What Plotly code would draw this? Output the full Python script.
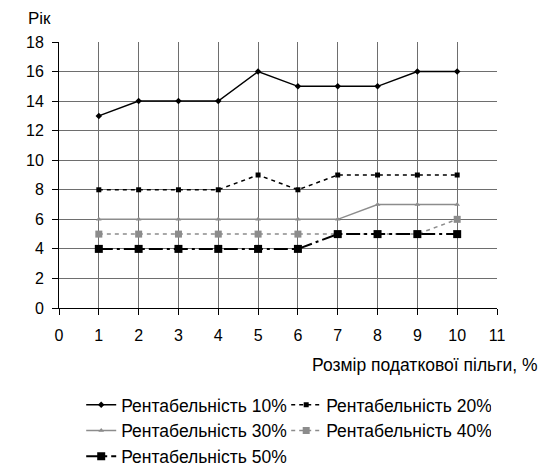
import plotly.graph_objects as go

x_vals = [1, 2, 3, 4, 5, 6, 7, 8, 9, 10]
r10 = [13, 14, 14, 14, 16, 15, 15, 15, 16, 16]
r20 = [8, 8, 8, 8, 9, 8, 9, 9, 9, 9]
r30 = [6, 6, 6, 6, 6, 6, 6, 7, 7, 7]
r40 = [5, 5, 5, 5, 5, 5, 5, 5, 5, 6]
r50 = [4, 4, 4, 4, 4, 4, 5, 5, 5, 5]
names = ["Рентабельність 10%", "Рентабельність 20%", "Рентабельність 30%",
         "Рентабельність 40%", "Рентабельність 50%"]

FONT = "Liberation Sans, Arial, sans-serif"

fig = go.Figure()
fig.add_trace(go.Scatter(x=x_vals, y=r10, name=names[0], mode="lines+markers",
                         line=dict(color="black", width=1.5),
                         marker=dict(symbol="diamond", size=5, color="black")))
fig.add_trace(go.Scatter(x=x_vals, y=r20, name=names[1], mode="lines+markers",
                         line=dict(color="black", width=1.5, dash="4px,4px"),
                         marker=dict(symbol="square", size=5, color="black")))
fig.add_trace(go.Scatter(x=x_vals, y=r30, name=names[2], mode="lines+markers",
                         line=dict(color="#8c8c8c", width=1.5),
                         marker=dict(symbol="triangle-up", size=5, color="#8c8c8c")))
fig.add_trace(go.Scatter(x=x_vals, y=r40, name=names[3], mode="lines+markers",
                         line=dict(color="#8c8c8c", width=1.5, dash="4px,4px"),
                         marker=dict(symbol="square", size=7, color="#8c8c8c")))
fig.add_trace(go.Scatter(x=x_vals, y=r50, name=names[4], mode="lines+markers",
                         line=dict(color="black", width=2, dash="14px,4px,3px,4px"),
                         marker=dict(symbol="square", size=8, color="black")))

fig.update_layout(
    width=545, height=469,
    margin=dict(l=59, r=48, t=42, b=161),
    paper_bgcolor="white", plot_bgcolor="white",
    font=dict(family=FONT, size=16, color="black"),
    showlegend=True,
    legend=dict(orientation="h", xref="container", yref="container",
                x=0.149, y=0.175, xanchor="left", yanchor="top",
                entrywidth=160, entrywidthmode="pixels", itemwidth=30,
                font=dict(family=FONT, size=17.5, color="black"),
                tracegroupgap=0, bgcolor="rgba(0,0,0,0)"),
    xaxis=dict(range=[0, 11], tickmode="linear", tick0=0, dtick=1,
               showgrid=True, gridcolor="#6e6e6e", gridwidth=1,
               showline=True, linecolor="black", linewidth=1,
               ticks="outside", ticklen=6, tickcolor="black",
               ticklabelstandoff=7,
               mirror=False, zeroline=False,
               tickfont=dict(family=FONT, size=16, color="black")),
    yaxis=dict(range=[0, 18], tickmode="linear", tick0=0, dtick=2,
               showgrid=True, gridcolor="#6e6e6e", gridwidth=1,
               showline=True, linecolor="black", linewidth=1,
               ticks="outside", ticklen=6, tickcolor="black",
               ticklabelstandoff=5,
               zeroline=False,
               tickfont=dict(family=FONT, size=16, color="black")),
    annotations=[
        dict(text="Рік", xref="paper", yref="paper", x=-0.076, y=1.0,
             xanchor="left", yanchor="middle", yshift=24, showarrow=False,
             font=dict(family=FONT, size=17, color="black")),
        dict(text="Розмір податкової пільги, %", xref="paper", yref="paper",
             x=1.098, y=0, xanchor="right", yanchor="middle", yshift=-57,
             showarrow=False, font=dict(family=FONT, size=17.5, color="black")),
    ],
)

fig.write_html("out.html")
